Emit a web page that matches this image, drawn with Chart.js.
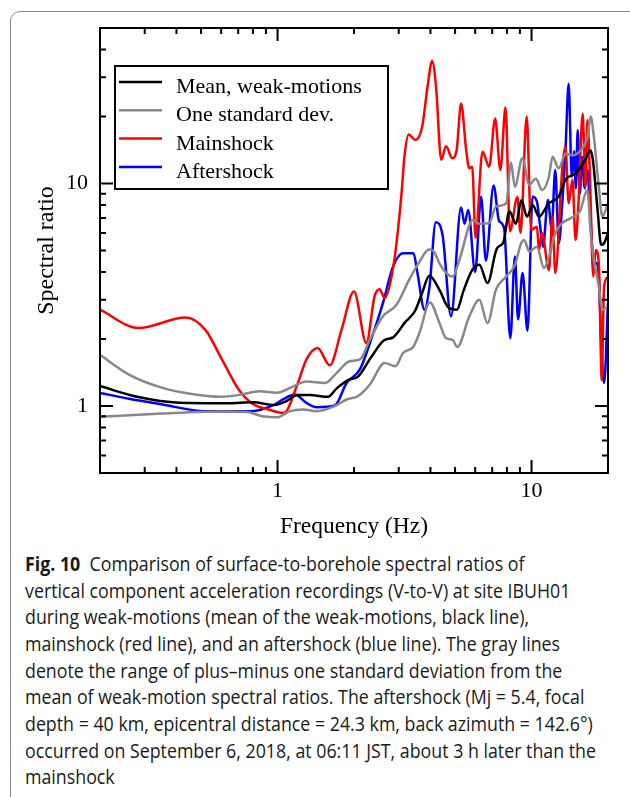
<!DOCTYPE html>
<html>
<head>
<meta charset="utf-8">
<script src="https://cdn.jsdelivr.net/npm/chart.js@4.4.1/dist/chart.umd.min.js"></script>
<style>
html,body{margin:0;padding:0;background:#fff;overflow:hidden;}
body{width:630px;height:797px;position:relative;}
#frame{position:absolute;left:10px;top:11px;width:700px;height:850px;border:1px solid #8a8a8a;border-radius:10px;}
#wrap{position:absolute;left:0;top:0;width:630px;height:550px;}
#caption{position:absolute;left:25px;top:551px;font-family:"Open Sans","Noto Sans",sans-serif;font-size:19.5px;line-height:26.67px;color:#1a1a1a;white-space:nowrap;transform-origin:0 0;}
#caption b{font-weight:700;}
</style>
</head>
<body>
<div id="frame"></div>
<div id="wrap"><canvas id="chart" width="630" height="550"></canvas></div>
<div id="caption">
<div><b>Fig. 10</b>&nbsp; Comparison of surface-to-borehole spectral ratios of</div>
<div id="refline">vertical component acceleration recordings (V-to-V) at site IBUH01</div>
<div>during weak-motions (mean of the weak-motions, black line),</div>
<div>mainshock (red line), and an aftershock (blue line). The gray lines</div>
<div>denote the range of plus–minus one standard deviation from the</div>
<div>mean of weak-motion spectral ratios. The aftershock (Mj = 5.4, focal</div>
<div>depth = 40 km, epicentral distance = 24.3 km, back azimuth = 142.6°)</div>
<div>occurred on September 6, 2018, at 06:11 JST, about 3 h later than the</div>
<div>mainshock</div>
</div>
<script>
// Tick values
const xTickValues=[0.2,0.3,0.4,0.5,0.6,0.7,0.8,0.9,1,2,3,4,5,6,7,8,9,10,20];
const yTickValues=[0.5,0.6,0.7,0.8,0.9,1,2,3,4,5,6,7,8,9,10,20,30,40,50];
const labeledTicks=[1,10];

// Mean of weak motions
const meanFreq=[0.2,0.28,0.41,0.64,0.8,0.97,1.08,1.2,1.34,1.58,1.71,1.9,2.08,2.33,2.62,2.86,3.17,3.48,3.7,3.96,4.34,4.7,5.08,5.4,5.85,6.23,6.71,7.3,7.75,8.18,8.68,9.12,9.6,10.1,10.7,11.7,12.8,13.6,14.9,16.3,17.0,17.4,18.2,18.8,19.3,20];
const meanRatio=[1.23,1.10,1.035,1.03,1.04,1.01,1.05,1.12,1.12,1.10,1.2,1.31,1.36,1.65,1.97,2.04,2.37,2.68,3.2,3.85,3.33,2.78,2.71,3.3,4.1,4.31,3.57,5.1,5.45,7.5,6.6,8.4,7.1,8.0,7.1,8.15,8.73,10.4,11.1,12.8,14.1,13.0,7.6,5.3,5.39,6.0];

// Mean + one standard deviation
const upperFreq=[0.2,0.26,0.35,0.475,0.6,0.72,0.85,0.99,1.17,1.3,1.54,1.71,1.92,2.11,2.31,2.6,2.94,3.3,3.6,3.95,4.15,4.34,4.62,4.9,5.2,5.88,6.2,6.81,7.24,7.95,8.3,8.6,9.2,9.8,10.4,11.0,11.7,12.1,12.8,13.6,14.6,15.6,16.6,17.1,17.6,18.4,19.0,20];
const upperRatio=[1.70,1.385,1.21,1.126,1.10,1.126,1.165,1.146,1.236,1.29,1.27,1.41,1.59,1.62,1.99,2.53,2.85,3.7,4.4,5.05,4.9,4.38,3.96,3.82,4.54,6.85,6.6,6.63,7.87,8.15,12.4,9.68,13.0,9.86,10.5,9.34,10.7,13.2,11.7,13.6,13.4,14.1,16.2,20.0,16.2,9.68,7.1,8.15];

// Mean - one standard deviation
const lowerFreq=[0.2,0.35,0.6,0.76,0.87,1.0,1.12,1.26,1.42,1.68,1.87,2.07,2.31,2.64,2.91,3.12,3.43,3.62,3.98,4.34,4.6,4.9,5.1,5.69,6.23,6.71,7.24,7.95,8.6,9.1,9.36,9.8,10.5,11.2,11.8,12.4,13.2,14.3,15.5,16.6,17.1,17.6,18.4,19.0,20];
const lowerRatio=[0.894,0.925,0.945,0.94,0.90,0.89,0.948,0.965,0.948,1.0,1.07,1.106,1.249,1.56,1.51,1.73,1.85,2.13,2.92,2.36,2.02,1.98,1.84,2.53,3.0,2.36,3.33,3.82,4.3,5.39,5.58,4.94,5.2,4.17,4.8,5.98,6.63,7.0,7.5,9.34,5.98,4.54,3.45,2.71,2.8];

// Mainshock
const mainFreq=[0.2,0.284,0.434,0.52,0.604,0.702,0.792,0.92,1.06,1.19,1.3,1.437,1.606,1.786,2.0,2.237,2.41,2.52,2.64,2.87,3.07,3.16,3.28,3.49,3.71,3.91,4.06,4.21,4.41,4.61,4.87,5.07,5.28,5.53,5.69,5.84,6.02,6.41,6.81,7.19,7.54,7.9,8.22,8.8,9.05,9.57,9.97,10.5,10.7,11.0,11.7,12.1,12.4,13.2,13.6,14.0,14.5,14.9,15.3,15.9,16.3,16.6,16.95,17.5,17.9,18.4,18.9,19.3,20];
const mainRatio=[2.71,2.24,2.5,2.2,1.62,1.19,1.03,0.965,0.93,1.227,1.62,1.824,1.525,2.2,3.27,1.92,3.11,3.35,3.06,4.38,8.73,13.2,16.6,15.7,18.0,28.1,35.5,27.0,12.8,14.7,13.0,14.1,22.9,14.1,11.7,11.9,5.7,13.9,11.9,19.6,11.5,22.0,6.1,8.7,6.0,20.0,6.19,6.4,5.03,6.0,4.09,7.1,3.96,11.5,14.6,8.15,10.4,5.58,8.15,20.6,9.68,19.3,11.5,3.82,5.03,4.38,1.31,3.45,3.8];

// Aftershock
const afterFreq=[0.2,0.26,0.352,0.52,0.79,0.977,1.05,1.17,1.3,1.42,1.68,1.87,2.11,2.31,2.6,2.85,3.12,3.43,3.55,3.79,3.96,4.2,4.47,4.82,5.28,5.45,5.63,6.0,6.33,6.61,7.09,7.45,7.8,8.25,8.6,8.85,9.22,9.64,10.1,10.5,10.8,11.1,11.6,12.0,12.4,12.8,13.2,13.6,14.0,14.4,14.7,14.95,15.2,15.5,15.8,16.2,16.6,17.0,17.6,18.0,18.4,18.9,19.3,20];
const afterRatio=[1.146,1.077,1.016,0.948,0.948,1.016,1.07,1.126,1.033,0.988,1.005,1.27,1.46,1.92,2.9,4.24,4.86,4.86,4.0,2.71,3.4,6.7,5.8,2.53,7.8,6.6,7.6,4.0,8.73,4.5,9.8,6.8,6.3,2.02,4.7,2.45,3.96,2.18,8.73,8.3,6.5,5.2,8.43,6.3,11.5,5.39,8.0,14.1,28.1,10.7,14.0,9.5,17.4,9.0,13.2,9.5,11.5,7.6,4.38,4.4,3.82,1.67,1.27,2.9];

function pts(fs,vs){return fs.map((f,i)=>({x:f,y:vs[i]}));}

const serif='"Liberation Serif","Times New Roman",serif';

// frame with inward ticks on all four sides
const framePlugin={
id:'frame',
afterDatasetsDraw(chart){
const {ctx,chartArea:a,scales:{x,y}}=chart;
ctx.save();
ctx.strokeStyle='#000';
ctx.lineWidth=2;
ctx.beginPath();
xTickValues.forEach(v=>{
const px=x.getPixelForValue(v);
const len=labeledTicks.includes(v)?13:6;
ctx.moveTo(px,a.bottom);ctx.lineTo(px,a.bottom-len);
ctx.moveTo(px,a.top);ctx.lineTo(px,a.top+len);
});
yTickValues.forEach(v=>{
const py=y.getPixelForValue(v);
const len=labeledTicks.includes(v)?13:6;
ctx.moveTo(a.left,py);ctx.lineTo(a.left+len,py);
ctx.moveTo(a.right,py);ctx.lineTo(a.right-len,py);
});
ctx.stroke();
ctx.strokeRect(a.left,a.top,a.right-a.left,a.bottom-a.top);
ctx.restore();
}
};

// boxed legend in the upper left of the plot
const boxLegend={
id:'boxLegend',
afterDraw(chart){
const {ctx}=chart;
const items=chart.data.datasets.filter(d=>!d.hideInLegend);
const bx=115,by=66,bw=273,rowH=28.3;
ctx.save();
ctx.fillStyle='#fff';
ctx.fillRect(bx,by,bw,123);
ctx.strokeStyle='#000';
ctx.lineWidth=2;
ctx.strokeRect(bx,by,bw,123);
ctx.font='22px '+serif;
ctx.textBaseline='alphabetic';
items.forEach((d,i)=>{
const ly=82+i*rowH;
ctx.strokeStyle=d.borderColor;
ctx.lineWidth=2.5;
ctx.beginPath();ctx.moveTo(119,ly);ctx.lineTo(162,ly);ctx.stroke();
ctx.fillStyle='#000';
ctx.fillText(d.label,176,ly+11);
});
ctx.restore();
}
};

const lineStyle={pointRadius:0,borderWidth:2.5,cubicInterpolationMode:'monotone',fill:false};

new Chart(document.getElementById('chart'),{
type:'line',
data:{datasets:[
{...lineStyle,label:'One standard dev.',data:pts(upperFreq,upperRatio),borderColor:'#888888',hideInLegend:true},
{...lineStyle,label:'One standard dev.',data:pts(lowerFreq,lowerRatio),borderColor:'#888888',hideInLegend:true},
{...lineStyle,label:'Mean, weak-motions',data:pts(meanFreq,meanRatio),borderColor:'#000000'},
{...lineStyle,label:'One standard dev.',data:[],borderColor:'#888888'},
{...lineStyle,label:'Mainshock',data:pts(mainFreq,mainRatio),borderColor:'#ff0000'},
{...lineStyle,label:'Aftershock',data:pts(afterFreq,afterRatio),borderColor:'#0000ff'}
]},
options:{
responsive:false,
animation:false,
devicePixelRatio:1,
layout:{padding:{left:0,top:28,right:22,bottom:0}},
plugins:{legend:{display:false},tooltip:{enabled:false}},
scales:{
x:{
type:'logarithmic',min:0.2,max:20,
grid:{display:false,drawTicks:false},
border:{display:false},
afterBuildTicks:s=>{s.ticks=xTickValues.map(v=>({value:v}));},
afterFit:s=>{s.height=77;},
ticks:{autoSkip:false,maxRotation:0,padding:5,color:'#000',font:{family:serif,size:22},
callback:v=>labeledTicks.includes(v)?String(v):''},
title:{display:true,text:'Frequency (Hz)',color:'#000',font:{family:serif,size:23.5},padding:{top:0,bottom:9}}
},
y:{
type:'logarithmic',min:0.5,max:50,
grid:{display:false,drawTicks:false},
border:{display:false},
afterBuildTicks:s=>{s.ticks=yTickValues.map(v=>({value:v}));},
afterFit:s=>{s.width=100;},
ticks:{autoSkip:false,padding:12,color:'#000',font:{family:serif,size:22},
callback:v=>labeledTicks.includes(v)?String(v):''},
title:{display:true,text:'Spectral ratio',color:'#000',font:{family:serif,size:24},padding:{top:32,bottom:0}}
}
}
},
plugins:[framePlugin,boxLegend]
});

// fit the caption to the width of the printed lines
const cap=document.getElementById('caption');
const ref=document.getElementById('refline');
const w=ref.getBoundingClientRect().width;
cap.style.transform='scaleX('+(571/w)+')';
</script>
</body>
</html>
